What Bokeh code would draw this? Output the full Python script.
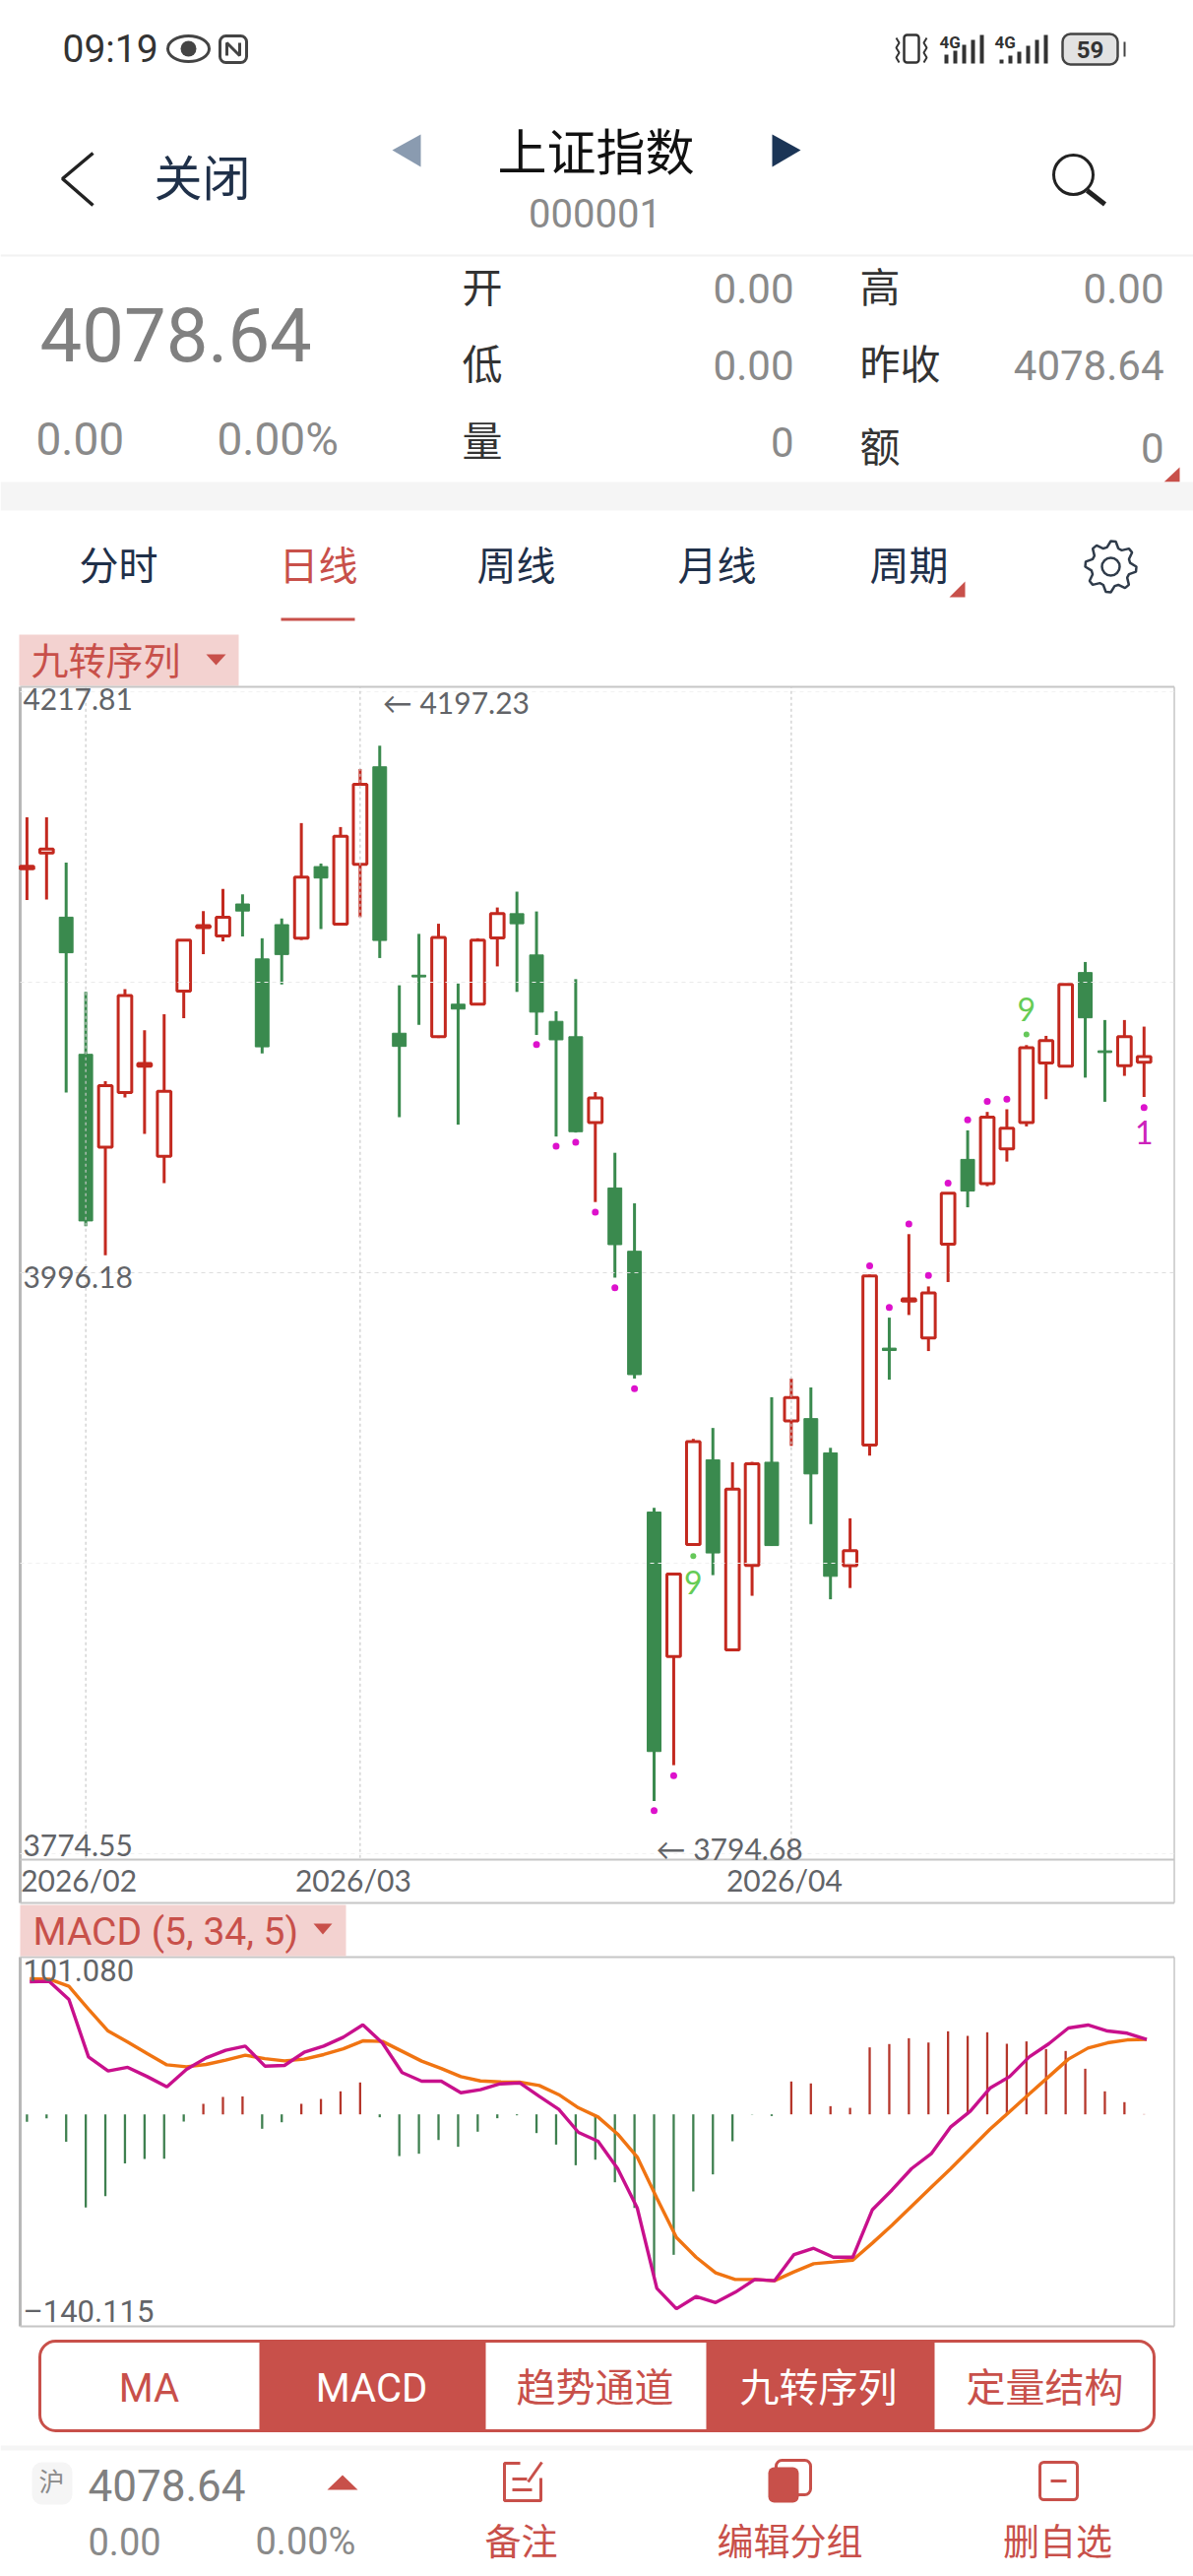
import math
import numpy as np
from bokeh.embed import file_html
from bokeh.models import Range1d
from bokeh.plotting import figure
from bokeh.resources import INLINE

# ---------- data ----------
opens = [4150.27, 4156.31, 4131.82, 4079.50, 4044.12, 4064.91, 4074.97, 4040.59, 4103.65, 4127.80,
         4124.61, 4136.85, 4115.89, 4128.97, 4123.77, 4151.11, 4129.14, 4151.95, 4189.18, 4087.55,
         4109.69, 4086.21, 4098.62, 4098.62, 4123.94, 4133.16, 4117.40, 4092.08, 4086.21, 4053.51,
         4028.52, 4004.37, 3904.88, 3849.77, 3892.55, 3924.78, 3852.30, 3884.53, 3923.89, 3939.63,
         3940.53, 3927.45, 3884.38, 3930.43, 3967.41, 3985.42, 3971.33, 4007.05, 4039.42, 4030.20,
         4043.44, 4053.51, 4076.15, 4074.97, 4110.69, 4080.84, 4075.14, 4076.48]
closes = [4151.27, 4157.82, 4118.24, 4015.94, 4067.59, 4101.97, 4075.98, 4065.41, 4123.10, 4128.64,
          4131.82, 4134.17, 4082.35, 4117.57, 4147.08, 4146.75, 4162.68, 4182.47, 4122.93, 4082.52,
          4109.02, 4124.11, 4096.77, 4123.10, 4133.16, 4129.31, 4095.60, 4085.03, 4049.98, 4062.90,
          4006.89, 3957.31, 3813.53, 3881.26, 3931.76, 3889.28, 3913.64, 3923.30, 3892.10, 3948.55,
          3919.43, 3880.37, 3890.17, 3994.98, 3966.52, 3986.26, 3988.44, 4026.51, 4027.35, 4055.52,
          4051.33, 4082.02, 4084.70, 4106.16, 4093.42, 4080.17, 4086.21, 4078.64]
highs = [4169.89, 4169.89, 4152.62, 4103.31, 4069.27, 4104.32, 4088.72, 4094.76, 4123.10, 4134.17,
         4142.56, 4140.54, 4123.77, 4131.32, 4167.71, 4152.28, 4166.20, 4188.34, 4197.23, 4105.83,
         4125.45, 4129.31, 4106.50, 4123.77, 4135.51, 4141.55, 4134.00, 4095.93, 4108.18, 4065.08,
         4041.94, 4022.65, 3906.51, 3881.41, 3932.80, 3936.96, 3923.89, 3924.04, 3948.69, 3955.82,
         3952.41, 3929.39, 3902.50, 3995.48, 3979.05, 4010.91, 3990.95, 4026.67, 4050.49, 4057.53,
         4058.54, 4083.02, 4086.54, 4106.33, 4114.72, 4092.58, 4092.58, 4090.07]
lows = [4138.36, 4138.53, 4064.91, 4013.93, 4002.86, 4063.07, 4049.15, 4030.36, 4093.25, 4117.74,
        4122.60, 4124.44, 4079.84, 4106.16, 4123.10, 4127.29, 4128.64, 4131.82, 4116.23, 4055.52,
        4090.74, 4085.71, 4052.67, 4098.28, 4113.04, 4103.31, 4086.88, 4048.14, 4049.65, 4023.15,
        3994.31, 3955.82, 3794.68, 3808.33, 3892.25, 3880.82, 3851.85, 3872.94, 3891.96, 3930.13,
        3900.27, 3871.61, 3875.91, 3926.41, 3955.38, 3980.05, 3966.30, 3992.63, 4021.14, 4029.19,
        4038.58, 4052.00, 4062.39, 4074.64, 4070.61, 4061.39, 4071.28, 4063.23]

dif = [95.6, 95.9, 82.9, 41.4, 31.3, 33.9, 27.2, 19.9, 32.4, 40.7, 46.2, 49.2, 34.8, 35.3, 44.7, 49.2,
       55.6, 64.6, 51.4, 30.1, 23.9, 23.9, 15.6, 17.8, 22.0, 22.7, 13.0, 3.6, -13.0, -19.4, -39.1, -67.5,
       -125.5, -140.2, -131.4, -135.7, -128.3, -119.1, -120.0, -101.1, -96.6, -103.0, -103.0, -68.7,
       -54.5, -39.1, -28.4, -9.0, 2.4, 18.9, 27.2, 41.4, 50.9, 62.3, 64.4, 60.1, 58.5, 54.0]
dea = [97.8, 97.5, 92.3, 75.8, 60.1, 52.1, 43.8, 35.7, 34.3, 36.0, 39.1, 42.6, 40.2, 38.6, 39.8, 43.1,
       47.3, 53.0, 52.6, 45.5, 38.4, 33.1, 27.2, 24.1, 23.4, 23.2, 20.8, 14.2, 4.7, -1.9, -14.2, -30.8,
       -60.4, -88.8, -103.0, -114.3, -119.1, -119.1, -120.0, -113.6, -107.7, -106.5, -105.1, -92.8,
       -80.0, -66.3, -52.6, -39.1, -24.9, -10.7, 1.9, 14.7, 27.2, 39.8, 47.8, 51.6, 53.7, 54.0]
hist = [-5.4, -2.8, -19.7, -67.2, -58.9, -35.3, -32.2, -32.0, -5.2, 7.6, 12.5, 13.0, -10.4, -5.7, 7.6,
        11.1, 16.6, 23.0, -2.1, -30.1, -28.4, -18.5, -23.4, -12.5, -2.8, -0.7, -13.5, -21.8, -36.7,
        -32.7, -49.0, -67.5, -118.4, -101.3, -55.6, -43.3, -19.4, -0.2, -1.2, 23.7, 22.3, 5.9, 4.7,
        48.3, 50.7, 54.9, 51.8, 59.9, 56.6, 59.2, 50.9, 52.6, 47.1, 45.7, 32.9, 16.6, 8.8, 0.2]

signal_idx = [26, 27, 28, 29, 30, 31, 32, 33, 43, 44, 45, 46, 47, 48, 49, 50, 57]
signal_val = [4083.19, 4044.45, 4045.96, 4019.30, 3990.45, 3951.96, 3790.95, 3804.32, 3998.84, 3982.90,
              4014.77, 3995.15, 4030.36, 4054.51, 4061.56, 4062.39, 4059.21]
nine_idx = [34, 51]
nine_val = [3888.09, 4087.05]

price_ticks = [3774.55, 3885.37, 3996.18, 4107.00, 4217.81]
price_labels = ["3774.55", "3996.18", "4217.81"]
date_idx = [3, 17, 39]
date_labels = ["2026/02", "2026/03", "2026/04"]
macd_labels = ["101.080", "–140.115"]
macd_label_val = [101.08, -140.115]

RED, GREEN = "#c3291f", "#3a8a4e"
TAG_RED, TAG_BG = "#c8504a", "#f3d2d0"
GRAY_TXT, LABEL_TXT, BORDER = "#8a8a8a", "#626468", "#c6c6c6"
NAVY = "#1f3049"
CJK, NUM, LAB = "Noto Sans CJK SC", "Roboto", "Lato"

# one page-sized figure: the default ranges are the page's pixels, the named ranges are the charts' scales
p = figure(width=1212, height=2616, x_range=(0, 1212), y_range=(2616, 0), output_backend="svg",
           toolbar_location=None, x_axis_location=None, y_axis_location=None, min_border=0,
           outline_line_color=None, background_fill_color="white", border_fill_color="white")
p.grid.visible = False
p.extra_x_ranges = {"idx": Range1d(-1.351, 59.523)}
p.extra_y_ranges = {"price": Range1d(3498.83, 4481.51), "macd": Range1d(-333.27, 1524.40)}
K = dict(x_range_name="idx", y_range_name="price")
M = dict(x_range_name="idx", y_range_name="macd")

idx = np.arange(len(opens))
o, c, h, l = map(np.array, (opens, closes, highs, lows))
up = c >= o


def txt(x, y, s, size, color, font=CJK, align="left", style="normal"):
    p.text(x=[x], y=[y - 4 if font == CJK else y], text=[s], text_font={"value": font},
           text_font_size=f"{size}px", text_color=color, text_align=align, text_baseline="middle",
           text_font_style=style)


# ---------- top UI ----------
txt(63, 49, "09:19", 39, "#333333", NUM)
p.ellipse(x=[191], y=[49], width=42, height=26, fill_color="white", line_color="#444444", line_width=3)
p.circle(x=[191], y=[49], radius=8, fill_color="#444444", line_color=None)
p.quad(left=[223], right=[250], top=[36], bottom=[63], fill_color="white", line_color="#444444",
       line_width=3, border_radius=6)
p.multi_line(xs=[[230, 230, 243, 243]], ys=[[56, 43, 56, 43]], line_color="#444444", line_width=3)
p.quad(left=[918], right=[933], top=[35], bottom=[63], fill_color="white", line_color="#333333",
       line_width=2.5, border_radius=3)
p.multi_line(xs=[[910, 913, 910, 913, 910, 913], [941, 938, 941, 938, 941, 938]],
             ys=[[38, 43, 48, 53, 58, 63], [38, 43, 48, 53, 58, 63]], line_color="#333333", line_width=2)
for x0, xs4, hs in ((954, [961, 970, 979, 988, 997], [9, 13, 19, 24, 29]),
                    (1010, [1017, 1026, 1035, 1044, 1053, 1062], [4, 8, 12, 18, 24, 29])):
    txt(x0, 42, "4G", 17, "#333333", NUM, style="bold")
    p.vbar(x=xs4, bottom=64, top=[64 - v for v in hs], width=4, fill_color="#333333", line_color=None)
p.quad(left=[1079], right=[1135], top=[34], bottom=[65], fill_color="#e2e2e2", line_color="#444444",
       line_width=2.5, border_radius=8)
p.quad(left=[1141], right=[1143], top=[42], bottom=[57], fill_color="#444444", line_color=None)
txt(1107, 50, "59", 24, "#333333", NUM, "center", "bold")

p.line([94, 63, 94], [155, 181, 208], line_color="#222222", line_width=3.5)
txt(156, 181, "关闭", 49, NAVY)
p.patch([427, 398, 427], [136, 152, 169], fill_color="#8a9bb0", line_color=None)
p.patch([784, 813, 784], [136, 152, 169], fill_color="#1b3556", line_color=None)
txt(605, 154, "上证指数", 50, "#111111", align="center")
txt(604, 216, "000001", 40, GRAY_TXT, NUM, "center")
p.circle(x=[1090], y=[177], radius=20, fill_color="white", line_color="#222222", line_width=3)
p.line([1104, 1122], [193, 207], line_color="#222222", line_width=5)
p.line([0, 1212], [259, 259], line_color="#f2f2f2", line_width=2)

txt(40, 339, "4078.64", 76, "#808080", NUM)
txt(36, 445, "0.00", 46, GRAY_TXT, NUM)
txt(220, 445, "0.00%", 46, GRAY_TXT, NUM)
for s, x, y in (("开", 469, 292), ("低", 469, 370), ("量", 469, 448), ("高", 873, 292), ("昨收", 873, 370),
                ("额", 873, 454)):
    txt(x, y, s, 41, "#333333")
for s, x, y in (("0.00", 806, 292), ("0.00", 806, 370), ("0", 806, 448), ("0.00", 1182, 292),
                ("4078.64", 1182, 370), ("0", 1182, 454)):
    txt(x, y, s, 42, GRAY_TXT, NUM, "right")
p.patch([1182, 1198, 1198], [489, 489, 474], fill_color=TAG_RED, line_color=None)
p.quad(left=[0], right=[1212], top=[489], bottom=[518], fill_color="#f5f5f5", line_color=None)

for s, x, col in (("分时", 120, NAVY), ("日线", 323, TAG_RED), ("周线", 524, NAVY), ("月线", 728, NAVY),
                  ("周期", 923, NAVY)):
    txt(x, 575, s, 40, col, align="center")
p.patch([964, 980, 980], [606, 606, 590], fill_color=TAG_RED, line_color=None)
p.quad(left=[285], right=[360], top=[627], bottom=[630], fill_color=TAG_RED, line_color=None)
teeth = 8
gx, gy = [], []
for j in range(teeth * 4):
    a = 2 * math.pi * j / (teeth * 4)
    r = 26 if j % 4 in (0, 1) else 20
    gx.append(1128 + r * math.cos(a))
    gy.append(575 + r * math.sin(a))
p.patch(gx, gy, fill_color="white", line_color="#2f3b4a", line_width=2.5)
p.circle(x=[1128], y=[575], radius=9, fill_color="white", line_color="#2f3b4a", line_width=2.5)
p.quad(left=[19], right=[242], top=[644], bottom=[696], fill_color=TAG_BG, line_color=None)
txt(31, 672, "九转序列", 38, TAG_RED)
p.patch([209, 229, 219], [664, 664, 675], fill_color=TAG_RED, line_color=None)

# ---------- panel frames ----------
for y0, y1 in ((697, 1932), (1987, 2362)):
    p.segment(x0=[20], x1=[20], y0=[y0], y1=[y1], line_color="#b8b8b8", line_width=3)
    p.segment(x0=[1192.5], x1=[1192.5], y0=[y0], y1=[y1], line_color=BORDER, line_width=1.5)
for y in (697, 1888, 1932, 1987, 2362):
    p.segment(x0=[20], x1=[1192.5], y0=[y], y1=[y], line_color=BORDER, line_width=2)

# ---------- candlestick panel ----------
for mask, col in ((up, RED), (~up, GREEN)):
    p.segment(x0=idx[mask], x1=idx[mask], y0=l[mask], y1=h[mask], line_color=col, line_width=3, **K)
p.vbar(x=idx[up], top=c[up], bottom=o[up], width=0.69, fill_color="white", line_color=RED, line_width=3, **K)
p.vbar(x=idx[~up], top=o[~up], bottom=c[~up], width=0.70, fill_color=GREEN, line_color=GREEN, line_width=1, **K)
# dashed grid lies over the candles, as in the reference
p.segment(x0=[-0.347] * 5, x1=[58.54] * 5, y0=price_ticks, y1=price_ticks,
          line_color=["#f2f2f2", "#f0f0f0", "#dddddd", "#ebebeb", "#f2f2f2"], line_dash="4 4", line_width=1.2, **K)
p.segment(x0=date_idx, x1=date_idx, y0=[3773.0] * 3, y1=[4219.5] * 3, line_color="#c9c9c9",
          line_dash="3 3", line_width=1.2, **K)
p.scatter(x=signal_idx, y=signal_val, size=7, fill_color="#dd11cc", line_color=None, **K)
p.scatter(x=nine_idx, y=nine_val, size=6, fill_color="#66c85a", line_color=None, **K)

p.text(x=nine_idx, y=nine_val, text=["9", "9"], y_offset=[27, -26], text_color="#66cc55",
       text_font={"value": LAB}, text_font_size="32px", text_align="center", text_baseline="middle", **K)
p.text(x=[signal_idx[-1]], y=[signal_val[-1]], text=["1"], y_offset=[25], text_color="#cc22bb",
       text_font={"value": LAB}, text_font_size="32px", text_align="center", text_baseline="middle", **K)
p.text(x=[0.0] * 3, y=[price_ticks[0], price_ticks[2], price_ticks[4]], text=price_labels,
       x_offset=[-4, -4, -4], y_offset=[-9, 4, 8], text_color=LABEL_TXT, text_font={"value": LAB},
       text_font_size="30px", text_align="left", text_baseline="middle", **K)
hi_i, lo_i = int(np.argmax(h)), int(np.argmin(l))
p.text(x=[hi_i, lo_i], y=[price_ticks[4], price_ticks[0]], text=[f"← {h[hi_i]:.2f}", f"← {l[lo_i]:.2f}"],
       x_offset=[3, 2], y_offset=[11, -6], text_color=LABEL_TXT, text_font={"value": LAB},
       text_font_size="30px", text_align="left", text_baseline="middle", **K)

# ---------- date strip ----------
p.text(x=date_idx, y=[1908] * 3, text=date_labels, x_offset=[-7, -7, -7], text_color=LABEL_TXT,
       text_font={"value": LAB}, text_font_size="30px", text_align="center", text_baseline="middle",
       x_range_name="idx")

# ---------- MACD tag ----------
p.quad(left=[20], right=[351], top=[1934], bottom=[1986], fill_color=TAG_BG, line_color=None)
txt(33, 1961, "MACD (5, 34, 5)", 39, TAG_RED, NUM)
p.patch([318, 337, 327.5], [1953, 1953, 1964], fill_color=TAG_RED, line_color=None)

# ---------- MACD panel ----------
hv = np.array(hist)
p.vbar(x=idx[hv >= 0], top=hv[hv >= 0], bottom=0, width=0.115, fill_color="#b5362b", line_color=None, **M)
p.vbar(x=idx[hv < 0], top=0, bottom=hv[hv < 0], width=0.115, fill_color="#3f8050", line_color=None, **M)
LINE_SHIFT = 0.14
p.line(idx + LINE_SHIFT, dea, line_color="#f07412", line_width=3.4, **M)
p.line(idx + LINE_SHIFT, dif, line_color="#c8108c", line_width=3.4, **M)
p.text(x=[0.0, 0.0], y=macd_label_val, text=macd_labels, x_offset=[-4, -4], y_offset=[-4, 3],
       text_color=LABEL_TXT, text_font={"value": NUM}, text_font_size="31px", text_align="left",
       text_baseline="middle", **M)

# ---------- bottom UI ----------
p.quad(left=[40], right=[1172], top=[2377], bottom=[2468], fill_color="white", line_color=TAG_RED, line_width=3,
       border_radius=16)
p.quad(left=[263, 717], right=[493, 949], top=[2377, 2377], bottom=[2468, 2468], fill_color=TAG_RED,
       line_color=None)
for s, x, col, font in (("MA", 151, TAG_RED, NUM), ("MACD", 377, "white", NUM), ("趋势通道", 604, TAG_RED, CJK),
                        ("九转序列", 831, "white", CJK), ("定量结构", 1061, TAG_RED, CJK)):
    txt(x, 2425, s, 40, col, font, "center")
p.quad(left=[0], right=[1212], top=[2483], bottom=[2488], fill_color="#f5f5f5", line_color=None)
p.quad(left=[32], right=[73], top=[2500], bottom=[2543], fill_color="#f5f5f5", line_color=None, border_radius=10)
txt(52, 2522, "沪", 26, GRAY_TXT, align="center")
txt(89, 2523, "4078.64", 44, "#808080", NUM)
txt(89, 2580, "0.00", 38, GRAY_TXT, NUM)
txt(259, 2580, "0.00%", 38, GRAY_TXT, NUM)
p.patch([332, 363, 347.5], [2528, 2528, 2513], fill_color=TAG_RED, line_color=None)
# note icon
p.line([528, 512, 512, 549, 549], [2501, 2501, 2539, 2539, 2516], line_color=TAG_RED, line_width=3)
p.line([536, 550], [2520, 2500], line_color=TAG_RED, line_width=3)
p.multi_line([[520, 535], [520, 540]], [[2517, 2517], [2528, 2528]], line_color=TAG_RED, line_width=3)
# group icon
p.quad(left=[788], right=[823], top=[2498], bottom=[2533], fill_color="white", line_color=TAG_RED, line_width=3,
       border_radius=6)
p.quad(left=[780], right=[811], top=[2505], bottom=[2541], fill_color=TAG_RED, line_color=None, border_radius=6)
# remove icon
p.quad(left=[1056], right=[1094], top=[2500], bottom=[2538], fill_color="white", line_color=TAG_RED, line_width=3,
       border_radius=4)
p.line([1067, 1083], [2519, 2519], line_color=TAG_RED, line_width=3)
for s, x in (("备注", 529), ("编辑分组", 802), ("删自选", 1074)):
    txt(x, 2582, s, 37, TAG_RED, align="center")

open("out.html", "w").write(file_html(p, INLINE))
